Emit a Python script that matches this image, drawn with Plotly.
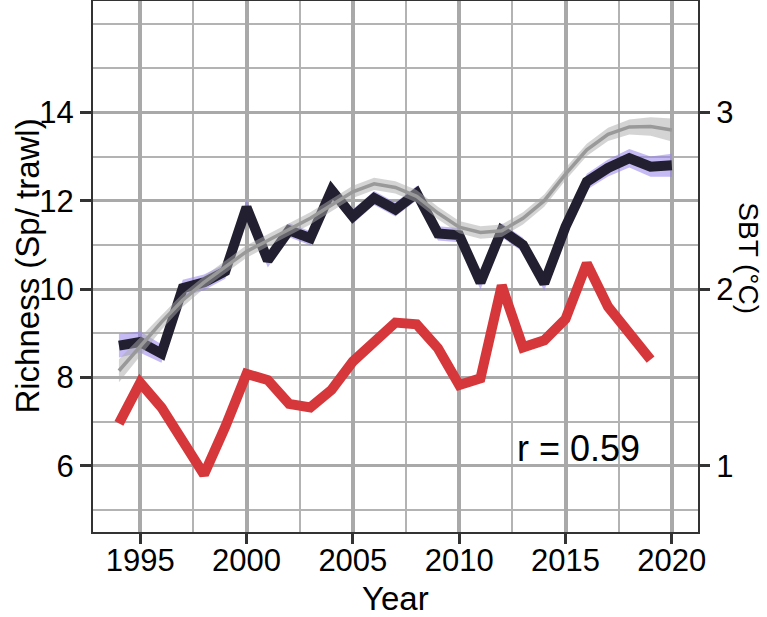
import plotly.graph_objects as go

# survey years
years = list(range(1994, 2021))
sbt_years = list(range(1994, 2020))

# species richness (Sp/ trawl), yearly mean
richness = [8.72, 8.80, 8.54, 10.02, 10.15, 10.40, 11.85, 10.65, 11.33, 11.15,
            12.24, 11.64, 12.06, 11.80, 12.17, 11.26, 11.22, 10.15, 11.33, 11.00,
            10.13, 11.41, 12.43, 12.74, 12.96, 12.77, 12.80]
# half width of the purple band around richness
richness_band = [0.27, 0.24, 0.21, 0.19, 0.18, 0.17, 0.17, 0.16, 0.16, 0.16,
                 0.16, 0.16, 0.16, 0.16, 0.16, 0.16, 0.16, 0.16, 0.16, 0.16,
                 0.17, 0.17, 0.18, 0.19, 0.21, 0.23, 0.26]

# smoothed richness trend and its band
smooth = [8.15, 8.70, 9.25, 9.75, 10.15, 10.50, 10.85, 11.10, 11.35, 11.60,
          11.90, 12.20, 12.38, 12.30, 12.10, 11.72, 11.40, 11.28, 11.32, 11.60,
          12.00, 12.60, 13.15, 13.50, 13.67, 13.68, 13.60]
smooth_band = [0.26, 0.21, 0.17, 0.15, 0.14, 0.14, 0.14, 0.14, 0.14, 0.14,
               0.14, 0.14, 0.14, 0.14, 0.14, 0.14, 0.14, 0.14, 0.14, 0.14,
               0.14, 0.14, 0.14, 0.15, 0.17, 0.21, 0.26]

# bottom temperature (°C), right axis
sbt = [1.24, 1.47, 1.33, 1.14, 0.95, 1.22, 1.52, 1.485, 1.35, 1.33,
       1.43, 1.59, 1.71, 1.81, 1.80, 1.665, 1.457, 1.495, 2.02, 1.67,
       1.71, 1.83, 2.145, 1.90, 1.75, 1.60]

y_ticks = [6, 8, 10, 12, 14]
y_minor = [5, 7, 9, 11, 13, 15, 16]
x_ticks = [1995, 2000, 2005, 2010, 2015, 2020]
x_minor = [1997.5, 2002.5, 2007.5, 2012.5, 2017.5]
sbt_ticks = [1, 2, 3]

FONT = "Liberation Sans, Arial, sans-serif"
GRID = "#a9a9a9"
AXIS = "#333333"

fig = go.Figure()

# purple band around the richness line
fig.add_trace(go.Scatter(x=years, y=[r - b for r, b in zip(richness, richness_band)],
                         mode="lines", line=dict(width=0), showlegend=False, hoverinfo="skip"))
fig.add_trace(go.Scatter(x=years, y=[r + b for r, b in zip(richness, richness_band)],
                         mode="lines", line=dict(width=0), fill="tonexty",
                         fillcolor="rgba(150,130,235,0.55)", showlegend=False, hoverinfo="skip"))

fig.add_trace(go.Scatter(x=years, y=richness, mode="lines",
                         line=dict(color="#221f30", width=10), name="Richness"))

# grey smooth band
fig.add_trace(go.Scatter(x=years, y=[s - b for s, b in zip(smooth, smooth_band)],
                         mode="lines", line=dict(width=0), showlegend=False, hoverinfo="skip"))
fig.add_trace(go.Scatter(x=years, y=[s + b for s, b in zip(smooth, smooth_band)],
                         mode="lines", line=dict(width=0), fill="tonexty",
                         fillcolor="rgba(170,170,170,0.5)", showlegend=False, hoverinfo="skip"))
fig.add_trace(go.Scatter(x=years, y=smooth, mode="lines",
                         line=dict(color="#999999", width=3.5), name="Trend"))

fig.add_trace(go.Scatter(x=sbt_years, y=sbt, mode="lines", yaxis="y2",
                         line=dict(color="#d5373b", width=10), name="SBT"))

y_range = [4.50, 16.52]

fig.update_layout(
    width=767, height=617,
    margin=dict(l=93, r=69, t=1, b=85),
    paper_bgcolor="white", plot_bgcolor="white",
    showlegend=False,
    font=dict(family=FONT, size=31, color="black"),
    xaxis=dict(
        range=[1992.78, 2021.23], tickvals=x_ticks, ticktext=[str(v) for v in x_ticks],
        showgrid=True, gridcolor=GRID, gridwidth=3.5,
        minor=dict(tickvals=x_minor, showgrid=True, gridcolor="#b3b3b3", gridwidth=2),
        ticks="outside", ticklen=10, tickwidth=3, tickcolor=AXIS,
        ticklabelstandoff=-10,
        showline=True, linecolor=AXIS, linewidth=2, mirror=True,
        zeroline=False, automargin=False,
    ),
    yaxis=dict(
        range=y_range, tickvals=y_ticks, ticktext=[str(v) for v in y_ticks],
        showgrid=True, gridcolor=GRID, gridwidth=3,
        minor=dict(tickvals=y_minor, showgrid=True, gridcolor="#b3b3b3", gridwidth=1.8),
        ticks="outside", ticklen=11, tickwidth=3, tickcolor=AXIS,
        showline=True, linecolor=AXIS, linewidth=2, mirror=True,
        zeroline=False, automargin=False,
    ),
    yaxis2=dict(
        overlaying="y", side="right",
        range=[(y_range[0] - 2) / 4, (y_range[1] - 2) / 4],
        tickvals=sbt_ticks, ticktext=[str(v) for v in sbt_ticks],
        showgrid=False, zeroline=False, automargin=False,
        ticks="outside", ticklen=11, tickwidth=3, tickcolor=AXIS,
    ),
    annotations=[
        dict(text="Year", xref="paper", yref="paper", x=0.5, y=-0.126,
             xanchor="center", yanchor="middle", showarrow=False, font=dict(size=33)),
        dict(text="Richness (Sp/ trawl)", xref="paper", yref="paper", x=-0.109, y=0.5,
             xanchor="center", yanchor="middle", textangle=-90, showarrow=False,
             font=dict(size=33)),
        dict(text="SBT (°C)", xref="paper", yref="paper", x=1.083, y=0.515,
             xanchor="center", yanchor="middle", textangle=90, showarrow=False,
             font=dict(size=28)),
        dict(text="r = 0.59", xref="x", yref="y", x=2015.6, y=6.4,
             xanchor="center", yanchor="middle", showarrow=False, font=dict(size=36)),
    ],
)

# the page's default body margin would push the figure 8px right and down
fig.write_html("out.html", config={"displayModeBar": False},
               post_script="document.body.style.margin = '0';")
